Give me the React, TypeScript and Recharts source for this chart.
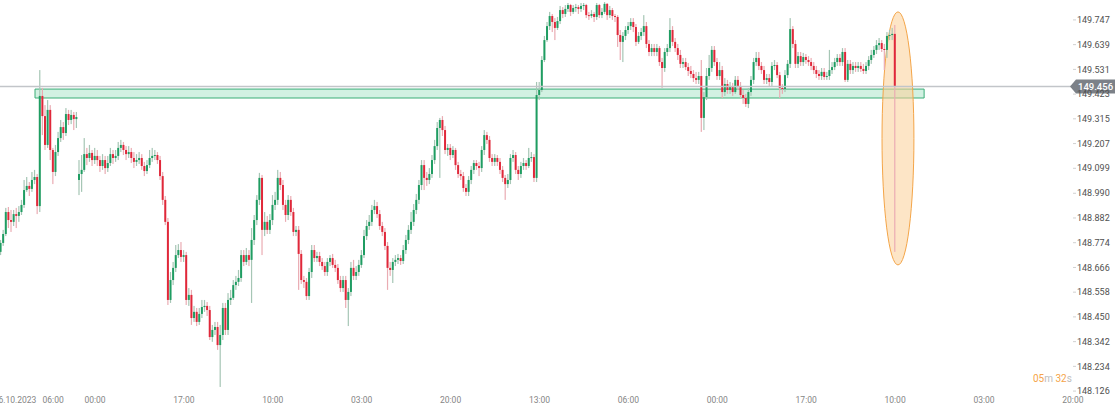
import React from 'react';
import { ComposedChart, Bar, XAxis, YAxis, ReferenceArea, ReferenceLine } from 'recharts';

// 30 min candles, prices kept as thousandths above 148.000
const opens = [
  734, 773, 812, 908, 873, 865, 899, 891, 908, 939,
  1004, 1022, 1009, 1048, 1061, 934, 1415, 1327, 1201, 1354,
  1179, 1083, 1170, 1231, 1279, 1253, 1336, 1310, 1332, 1314,
  1048, 1074, 1092, 1161, 1144, 1166, 1135, 1153, 1135, 1109,
  1135, 1100, 1122, 1161, 1144, 1153, 1188, 1201, 1179, 1161,
  1170, 1144, 1127, 1135, 1144, 1109, 1087, 1113, 1144, 1153,
  1157, 1135, 1065, 961, 865, 524, 611, 664, 720, 742,
  712, 720, 524, 546, 445, 472, 428, 463, 493, 498,
  480, 362, 393, 406, 327, 371, 489, 393, 524, 533,
  589, 603, 620, 720, 690, 720, 699, 786, 873, 961,
  1057, 830, 865, 830, 873, 939, 961, 1057, 1026, 939,
  895, 961, 908, 821, 830, 725, 611, 603, 541, 646,
  742, 707, 716, 690, 672, 646, 690, 707, 677, 664,
  611, 576, 611, 524, 559, 664, 629, 646, 677, 720,
  803, 847, 865, 917, 934, 899, 847, 821, 760, 664,
  655, 690, 699, 707, 694, 742, 786, 830, 865, 917,
  961, 1026, 1113, 1057, 1048, 1074, 1135, 1196, 1275, 1310,
  1266, 1179, 1188, 1157, 1179, 1113, 1074, 1065, 1013, 996,
  1048, 1092, 1122, 1109, 1100, 1179, 1244, 1223, 1144, 1127,
  1144, 1127, 1092, 1057, 1030, 1048, 1144, 1157, 1092, 1074,
  1109, 1122, 1109, 1144, 1148, 1057, 1419, 1441, 1572, 1659,
  1720, 1764, 1738, 1712, 1742, 1790, 1773, 1795, 1812, 1782,
  1799, 1803, 1795, 1808, 1812, 1768, 1764, 1773, 1760, 1812,
  1768, 1782, 1817, 1768, 1790, 1764, 1760, 1681, 1651, 1677,
  1703, 1720, 1738, 1716, 1651, 1677, 1694, 1720, 1642, 1607,
  1624, 1607, 1624, 1563, 1537, 1607, 1624, 1703, 1651, 1624,
  1594, 1555, 1563, 1541, 1524, 1511, 1493, 1485, 1502, 1319,
  1410, 1502, 1537, 1616, 1563, 1502, 1528, 1432, 1467, 1441,
  1458, 1432, 1485, 1458, 1419, 1406, 1380, 1432, 1485, 1563,
  1581, 1546, 1528, 1485, 1493, 1476, 1546, 1550, 1506, 1450,
  1445, 1506, 1555, 1707, 1642, 1555, 1589, 1563, 1585, 1572,
  1563, 1546, 1528, 1511, 1502, 1520, 1498, 1502, 1528, 1541,
  1563, 1581, 1563, 1607, 1485, 1555, 1528, 1546, 1537, 1546,
  1533, 1524, 1546, 1572, 1594, 1616, 1637, 1646, 1620, 1616,
  1677, 1681, 1686,
];

const highs = [
  786, 830, 926, 930, 917, 917, 926, 934, 961, 1048,
  1061, 1039, 1083, 1092, 1074, 1528, 1450, 1375, 1397, 1375,
  1188, 1201, 1258, 1310, 1301, 1362, 1354, 1354, 1345, 1345,
  1135, 1157, 1231, 1188, 1201, 1179, 1188, 1179, 1153, 1161,
  1153, 1153, 1188, 1179, 1179, 1214, 1223, 1214, 1196, 1196,
  1188, 1170, 1161, 1170, 1161, 1127, 1135, 1179, 1188, 1179,
  1170, 1153, 1083, 978, 882, 646, 690, 764, 768, 777,
  742, 734, 576, 568, 498, 489, 489, 524, 524, 515,
  498, 415, 428, 428, 415, 511, 511, 554, 568, 611,
  629, 655, 742, 742, 751, 742, 838, 895, 982, 1079,
  1070, 908, 891, 899, 982, 996, 1092, 1083, 1048, 961,
  982, 978, 926, 847, 847, 742, 629, 620, 664, 764,
  764, 734, 734, 707, 690, 707, 720, 725, 699, 681,
  629, 629, 629, 576, 690, 699, 672, 699, 742, 830,
  873, 895, 939, 961, 952, 917, 865, 838, 777, 690,
  707, 720, 725, 720, 764, 808, 851, 908, 943, 987,
  1048, 1135, 1135, 1083, 1100, 1157, 1223, 1301, 1319, 1327,
  1284, 1205, 1205, 1196, 1188, 1127, 1092, 1083, 1030, 1065,
  1109, 1135, 1135, 1127, 1196, 1266, 1258, 1240, 1161, 1161,
  1157, 1144, 1109, 1070, 1074, 1161, 1179, 1170, 1109, 1127,
  1144, 1135, 1188, 1170, 1161, 1476, 1476, 1589, 1677, 1738,
  1782, 1773, 1755, 1760, 1808, 1803, 1812, 1821, 1817, 1812,
  1817, 1812, 1821, 1821, 1817, 1782, 1790, 1782, 1821, 1817,
  1799, 1825, 1821, 1808, 1799, 1773, 1768, 1703, 1694, 1720,
  1738, 1755, 1755, 1729, 1694, 1712, 1768, 1738, 1659, 1642,
  1642, 1642, 1633, 1581, 1624, 1642, 1755, 1720, 1668, 1642,
  1616, 1581, 1581, 1559, 1546, 1528, 1520, 1520, 1572, 1432,
  1537, 1594, 1633, 1633, 1581, 1563, 1546, 1493, 1485, 1476,
  1472, 1502, 1502, 1476, 1441, 1424, 1450, 1502, 1581, 1607,
  1607, 1563, 1546, 1511, 1511, 1563, 1572, 1563, 1520, 1467,
  1528, 1572, 1755, 1720, 1659, 1607, 1607, 1603, 1598, 1589,
  1581, 1563, 1546, 1528, 1537, 1537, 1520, 1616, 1563, 1581,
  1598, 1598, 1624, 1624, 1572, 1572, 1563, 1563, 1563, 1563,
  1555, 1563, 1589, 1616, 1633, 1659, 1668, 1659, 1642, 1694,
  1703, 1712, 1725,
];

const lows = [
  720, 760, 803, 838, 821, 847, 838, 865, 895, 926,
  996, 978, 996, 1030, 899, 908, 1244, 1179, 1188, 1135,
  1030, 1065, 1153, 1214, 1223, 1240, 1288, 1292, 1266, 1275,
  982, 996, 1083, 1113, 1127, 1109, 1118, 1109, 1083, 1092,
  1074, 1083, 1109, 1118, 1127, 1135, 1170, 1157, 1135, 1144,
  1122, 1100, 1109, 1118, 1092, 1065, 1074, 1100, 1127, 1135,
  1118, 1048, 939, 851, 502, 511, 589, 646, 707, 690,
  690, 502, 498, 415, 428, 410, 415, 445, 472, 454,
  349, 341, 371, 306, 144, 349, 371, 371, 502, 524,
  568, 585, 603, 672, 677, 672, 511, 764, 851, 939,
  720, 803, 812, 812, 851, 917, 939, 1004, 917, 865,
  873, 891, 803, 803, 568, 594, 576, 524, 524, 620,
  690, 690, 672, 655, 629, 629, 672, 664, 646, 594,
  559, 559, 489, 410, 541, 611, 611, 629, 664, 707,
  786, 830, 847, 899, 882, 830, 803, 742, 568, 629,
  598, 672, 681, 677, 681, 725, 768, 812, 847, 899,
  943, 1004, 1004, 1022, 1030, 1057, 1118, 1179, 1057, 1240,
  1161, 1153, 1135, 1144, 1092, 1057, 1048, 996, 978, 978,
  1030, 1074, 1092, 1065, 1083, 1157, 1205, 1127, 1109, 1109,
  1109, 1074, 1039, 961, 1013, 1030, 1127, 1074, 1048, 1057,
  1092, 1092, 1100, 1127, 1039, 1039, 1397, 1432, 1563, 1651,
  1703, 1694, 1659, 1703, 1729, 1755, 1760, 1782, 1764, 1773,
  1782, 1773, 1782, 1790, 1755, 1747, 1755, 1738, 1747, 1755,
  1755, 1773, 1747, 1755, 1747, 1738, 1629, 1572, 1563, 1659,
  1686, 1703, 1694, 1633, 1642, 1659, 1677, 1624, 1589, 1589,
  1589, 1589, 1546, 1450, 1520, 1589, 1607, 1633, 1607, 1572,
  1537, 1537, 1528, 1502, 1493, 1476, 1467, 1467, 1258, 1266,
  1397, 1485, 1520, 1546, 1485, 1485, 1406, 1415, 1424, 1424,
  1415, 1424, 1441, 1406, 1380, 1367, 1362, 1415, 1467, 1546,
  1528, 1511, 1467, 1467, 1458, 1458, 1528, 1493, 1406, 1424,
  1432, 1493, 1537, 1624, 1537, 1537, 1546, 1546, 1555, 1546,
  1528, 1511, 1493, 1485, 1485, 1485, 1485, 1485, 1511, 1528,
  1546, 1546, 1546, 1476, 1476, 1511, 1511, 1520, 1520, 1520,
  1511, 1511, 1528, 1555, 1581, 1598, 1616, 1607, 1528, 1581,
  1659, 1659, 734,
];

const closes = [
  773, 812, 908, 873, 865, 899, 891, 908, 939, 1004,
  1022, 1009, 1048, 1061, 934, 1415, 1327, 1201, 1354, 1179,
  1083, 1170, 1231, 1279, 1253, 1336, 1310, 1332, 1314, 1323,
  1074, 1092, 1161, 1144, 1166, 1135, 1153, 1135, 1109, 1135,
  1100, 1122, 1161, 1144, 1153, 1188, 1201, 1179, 1161, 1170,
  1144, 1127, 1135, 1144, 1109, 1087, 1113, 1144, 1153, 1157,
  1135, 1065, 961, 865, 524, 611, 664, 720, 742, 712,
  720, 524, 546, 445, 472, 428, 463, 493, 498, 480,
  362, 393, 406, 327, 371, 489, 393, 524, 533, 589,
  603, 620, 720, 690, 720, 699, 786, 873, 961, 1057,
  830, 865, 830, 873, 939, 961, 1057, 1026, 939, 895,
  961, 908, 821, 830, 725, 611, 603, 541, 646, 742,
  707, 716, 690, 672, 646, 690, 707, 677, 664, 611,
  576, 611, 524, 559, 664, 629, 646, 677, 720, 803,
  847, 865, 917, 934, 899, 847, 821, 760, 664, 655,
  690, 699, 707, 694, 742, 786, 830, 865, 917, 961,
  1026, 1113, 1057, 1048, 1074, 1135, 1196, 1275, 1310, 1266,
  1179, 1188, 1157, 1179, 1113, 1074, 1065, 1013, 996, 1048,
  1092, 1122, 1109, 1100, 1179, 1244, 1223, 1144, 1127, 1144,
  1127, 1092, 1057, 1030, 1048, 1144, 1157, 1092, 1074, 1109,
  1122, 1109, 1144, 1148, 1057, 1419, 1441, 1572, 1659, 1720,
  1764, 1738, 1712, 1742, 1790, 1773, 1795, 1812, 1782, 1799,
  1803, 1795, 1808, 1812, 1768, 1764, 1773, 1760, 1812, 1768,
  1782, 1817, 1768, 1790, 1764, 1760, 1681, 1651, 1677, 1703,
  1720, 1738, 1716, 1651, 1677, 1694, 1720, 1642, 1607, 1624,
  1607, 1624, 1563, 1537, 1607, 1624, 1703, 1651, 1624, 1594,
  1555, 1563, 1541, 1524, 1511, 1493, 1485, 1502, 1319, 1410,
  1502, 1537, 1616, 1563, 1502, 1528, 1432, 1467, 1441, 1458,
  1432, 1485, 1458, 1419, 1406, 1380, 1432, 1485, 1563, 1581,
  1546, 1528, 1485, 1493, 1476, 1546, 1550, 1506, 1450, 1445,
  1506, 1555, 1707, 1642, 1555, 1589, 1563, 1585, 1572, 1563,
  1546, 1528, 1511, 1502, 1520, 1498, 1502, 1528, 1541, 1563,
  1581, 1563, 1607, 1485, 1555, 1528, 1546, 1537, 1546, 1533,
  1524, 1546, 1572, 1594, 1616, 1637, 1646, 1620, 1616, 1677,
  1681, 1686, 1456,
];

const priceTicks = [
  148.126, 148.234, 148.342, 148.45, 148.558, 148.666, 148.774, 148.882,
  148.99, 149.099, 149.207, 149.315, 149.423, 149.531, 149.639, 149.747,
];

const timeTicks = [5.4, 20, 36, 70, 104, 138, 172, 206, 240, 274, 308, 342, 376, 410];
const timeLabels = [
  '16.10.2023', '06:00', '00:00', '17:00', '10:00', '03:00', '20:00',
  '13:00', '06:00', '00:00', '17:00', '10:00', '03:00', '20:00',
];

const toPrice = (v: number) => 148 + v / 1000;

const candles = opens.map((o, i) => ({
  i,
  open: toPrice(o),
  high: toPrice(highs[i]),
  low: toPrice(lows[i]),
  close: toPrice(closes[i]),
}));

const lastPrice = candles[candles.length - 1].close;

const UP = '#1f9d62';
const DOWN = '#e0283a';
const UP_WICK = '#a6c6b5';
const DOWN_WICK = '#eaacb3';

function Candle(props: any) {
  const { x, y, width, height, payload } = props;
  if (!payload) return null;
  const { open, close, high, low } = payload;
  const top = Math.min(y, y + height);
  const h = Math.abs(height);
  const k = h / (high - low || 1);
  const toY = (v: number) => top + (high - v) * k;
  const up = close >= open;
  const b1 = toY(Math.max(open, close));
  const b2 = toY(Math.min(open, close));
  const cx = x + width / 2;
  return (
    <g>
      <rect x={cx - 0.6} y={top} width={1.2} height={Math.max(h, 1)} fill={up ? UP_WICK : DOWN_WICK} />
      <rect x={x} y={b1} width={width} height={Math.max(b2 - b1, 1)} fill={up ? UP : DOWN} />
    </g>
  );
}

function PriceTag(props: any) {
  const { viewBox } = props;
  if (!viewBox) return null;
  const y = viewBox.y;
  const x0 = viewBox.x + viewBox.width - 3;
  return (
    <g>
      <polygon
        points={`${x0},${y} ${x0 + 6},${y - 7} 1115,${y - 7} 1115,${y + 7} ${x0 + 6},${y + 7}`}
        fill="#7c8188"
      />
      <text x={x0 + 8} y={y + 3.5} fill="#fff" fontSize={9.5} fontWeight={500}>
        {lastPrice.toFixed(3)}
      </text>
    </g>
  );
}

function Ellipse(props: any) {
  const { x, y, width, height } = props;
  return (
    <ellipse
      cx={x + width / 2}
      cy={y + height / 2}
      rx={width / 2}
      ry={height / 2}
      fill="#fbcf97"
      fillOpacity={0.55}
      stroke="#f4a548"
      strokeWidth={1}
    />
  );
}

export default function App() {
  return (
    <div style={{ position: 'absolute', left: 0, top: 0, width: 1115, height: 412, background: '#fff', fontFamily: 'Roboto' }}>
      <ComposedChart
        width={1115}
        height={412}
        data={candles}
        margin={{ top: 0, right: 0, bottom: 0, left: 0 }}
        style={{ fontFamily: 'Roboto' }}
      >
        <XAxis
          dataKey="i"
          type="number"
          domain={[-0.33, 410.04]}
          ticks={timeTicks}
          interval={0}
          tickFormatter={(v: number) => timeLabels[timeTicks.indexOf(v)] ?? ''}
          axisLine={false}
          tickLine={false}
          tickSize={0}
          tickMargin={5}
          height={20}
          tick={{ fontSize: 8.5, fill: '#858585' }}
        />
        <YAxis
          orientation="right"
          width={42}
          domain={[148.122, 149.834]}
          ticks={priceTicks}
          interval={0}
          tickFormatter={(v: number) => v.toFixed(3)}
          axisLine={false}
          tickSize={3}
          tickMargin={1}
          tickLine={{ stroke: '#d0d0d0' }}
          tick={{ fontSize: 9, fill: '#505050' }}
        />
        <ReferenceArea
          x1={13.06}
          x2={353.1}
          y1={149.406}
          y2={149.445}
          fill="#c3ecd8"
          fillOpacity={0.75}
          stroke="#3aad77"
          strokeOpacity={1}
          strokeWidth={1}
        />
        <Bar
          dataKey={(d: any) => [d.low, d.high]}
          barSize={2}
          isAnimationActive={false}
          shape={(p: any) => <Candle {...p} />}
        />
        <ReferenceArea x1={337} x2={349.2} y1={148.677} y2={149.782} shape={(p: any) => <Ellipse {...p} />} />
        <ReferenceLine y={lastPrice} stroke="#c2c5c9" strokeWidth={1.5} label={<PriceTag />} />
      </ComposedChart>
      <div style={{ position: 'absolute', left: 1033, top: 373, fontSize: 10, lineHeight: '12px', whiteSpace: 'nowrap' }}>
        <span style={{ color: '#f5a449' }}>05</span>
        <span style={{ color: '#bdbdbd' }}>m </span>
        <span style={{ color: '#f5a449' }}>32</span>
        <span style={{ color: '#bdbdbd' }}>s</span>
      </div>
    </div>
  );
}
